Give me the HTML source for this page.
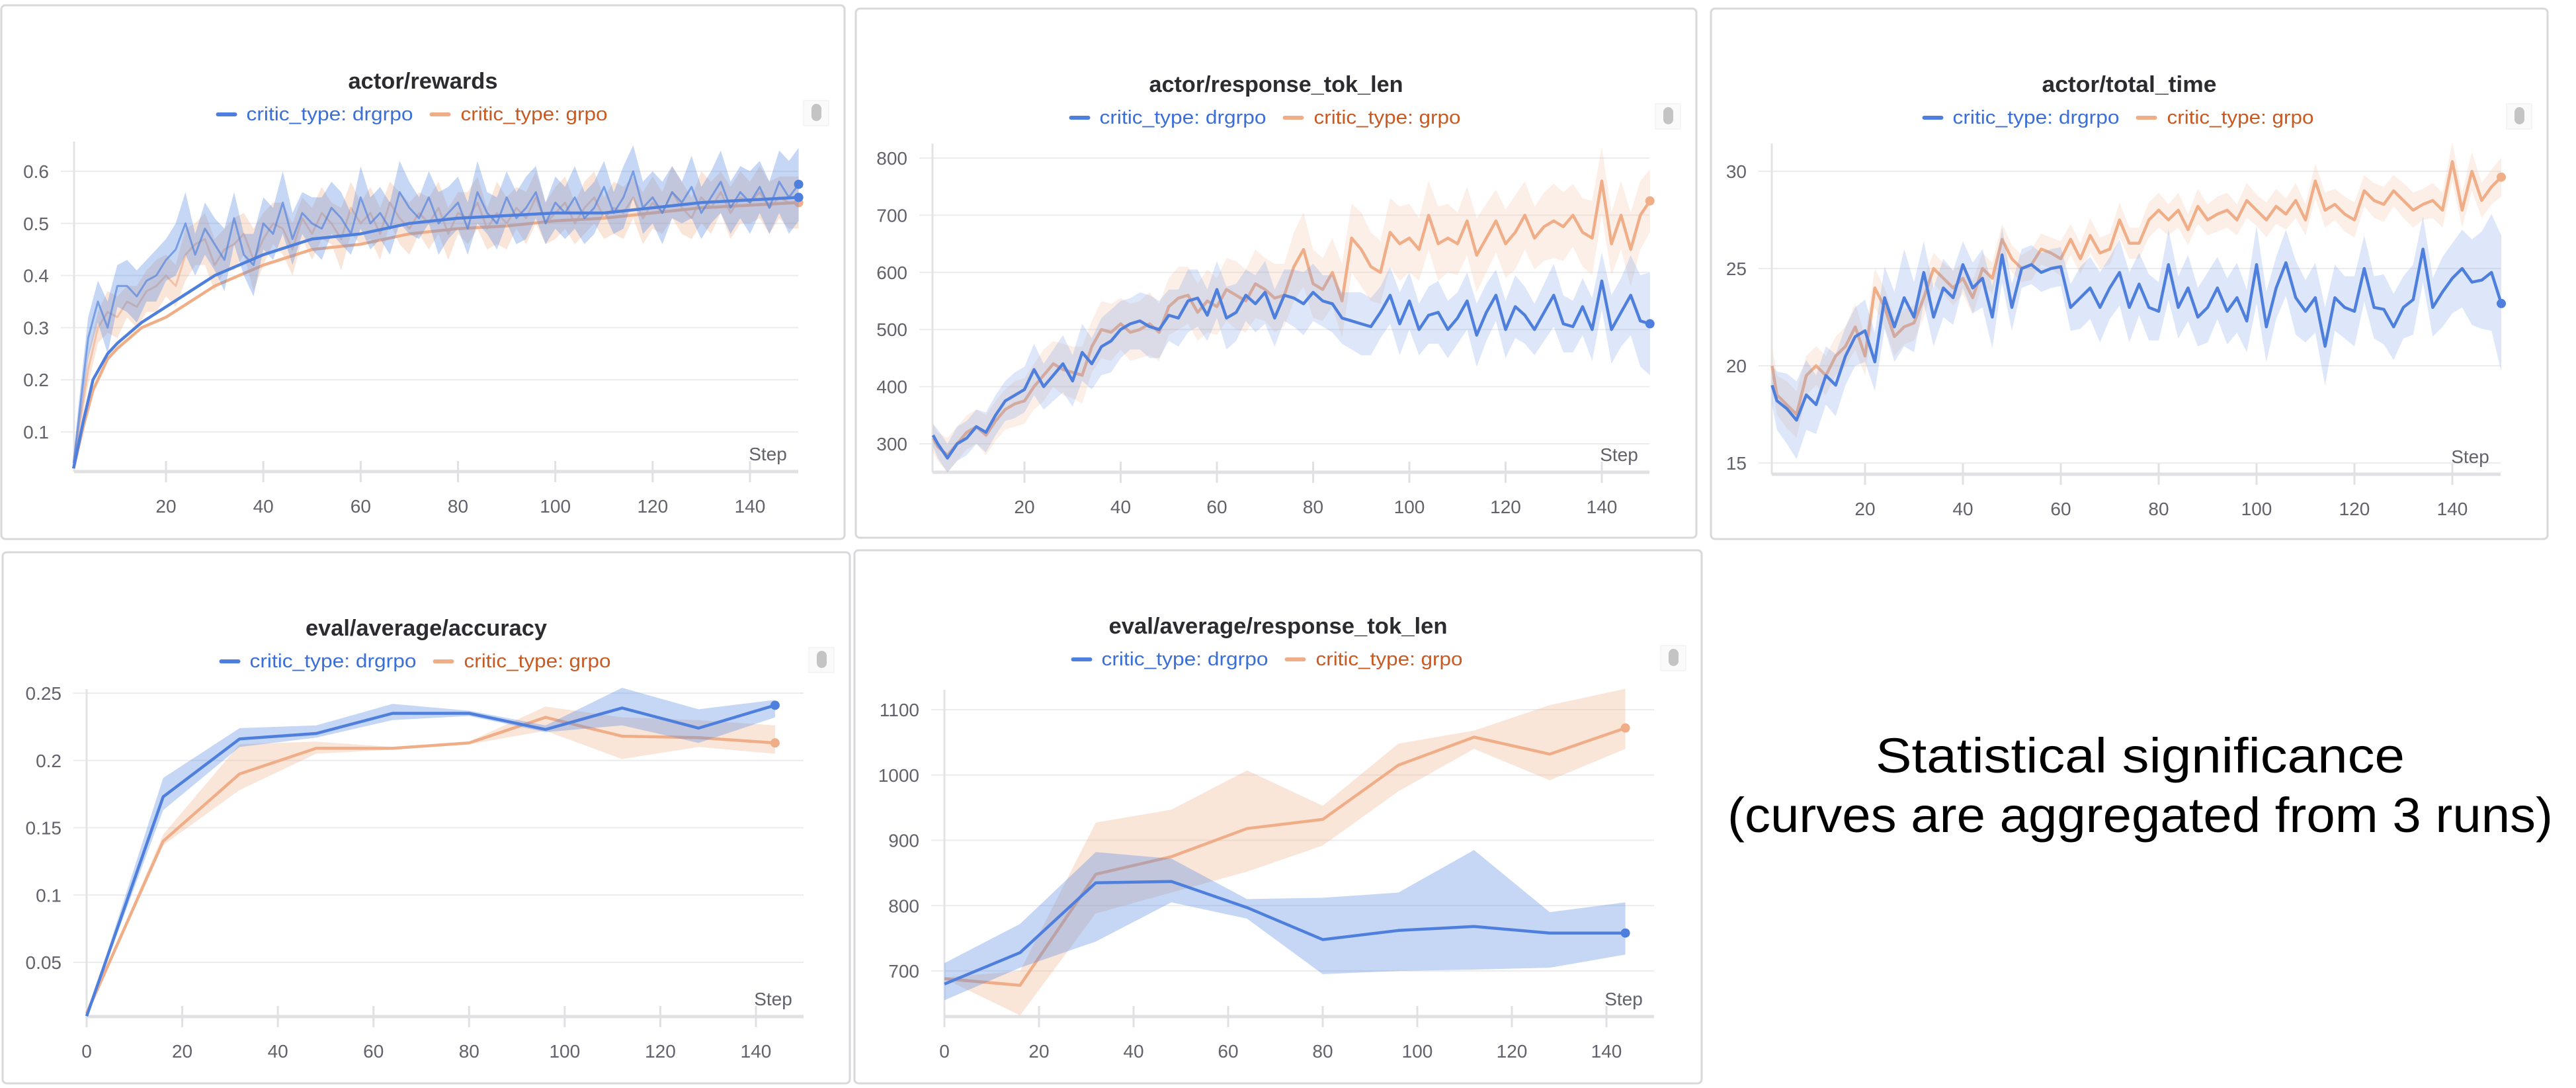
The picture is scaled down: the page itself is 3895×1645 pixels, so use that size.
<!DOCTYPE html>
<html><head><meta charset="utf-8"><style>
html,body{margin:0;padding:0;background:#fff;}
svg{display:block;}
text{font-family:"Liberation Sans",sans-serif;}
</style></head>
<body>
<svg id="root" width="3895" height="1645" viewBox="0 0 3895 1645" xmlns="http://www.w3.org/2000/svg">
<text x="3236" y="1168" font-size="74" fill="#000" text-anchor="middle" textLength="800" lengthAdjust="spacingAndGlyphs">Statistical significance</text>
<text x="3236" y="1258" font-size="74" fill="#000" text-anchor="middle" textLength="1248" lengthAdjust="spacingAndGlyphs">(curves are aggregated from 3 runs)</text>
</svg>
<script>
// ===== Data: actor/rewards (steps 1,2,4,...,150) =====
const rewardsDr = [0.04,0.12,0.28,0.35,0.30,0.38,0.38,0.36,0.39,0.40,0.43,0.45,0.50,0.44,0.49,0.46,0.43,0.51,0.44,0.42,0.50,0.48,0.54,0.47,0.52,0.50,0.49,0.53,0.51,0.48,0.55,0.50,0.52,0.49,0.56,0.53,0.51,0.55,0.50,0.52,0.54,0.49,0.56,0.52,0.50,0.55,0.51,0.53,0.56,0.50,0.54,0.52,0.55,0.51,0.53,0.57,0.52,0.55,0.60,0.53,0.55,0.52,0.56,0.54,0.57,0.52,0.55,0.58,0.53,0.56,0.54,0.57,0.53,0.58,0.55,0.575];
const rewardsGr = [0.04,0.10,0.22,0.30,0.33,0.32,0.35,0.34,0.37,0.38,0.40,0.38,0.44,0.46,0.47,0.42,0.45,0.46,0.48,0.43,0.47,0.50,0.49,0.45,0.51,0.48,0.52,0.50,0.47,0.53,0.50,0.52,0.48,0.54,0.51,0.49,0.52,0.50,0.53,0.48,0.52,0.51,0.54,0.49,0.52,0.50,0.53,0.51,0.55,0.50,0.52,0.54,0.50,0.53,0.55,0.51,0.53,0.52,0.55,0.51,0.54,0.52,0.56,0.53,0.51,0.55,0.53,0.56,0.52,0.55,0.54,0.56,0.53,0.55,0.54,0.54];
const rewardsDrSpread = [0.01,0.03,0.04,0.04,0.05,0.04,0.05,0.05,0.04,0.05,0.04,0.05,0.06,0.04,0.05,0.05,0.06,0.05,0.04,0.06,0.05,0.05,0.06,0.05,0.04,0.05,0.06,0.05,0.05,0.04,0.06,0.05,0.05,0.05,0.06,0.05,0.04,0.05,0.06,0.05,0.05,0.05,0.06,0.04,0.05,0.05,0.05,0.06,0.05,0.04,0.05,0.05,0.06,0.05,0.05,0.05,0.04,0.06,0.05,0.05,0.05,0.06,0.05,0.04,0.06,0.05,0.05,0.06,0.05,0.05,0.06,0.05,0.05,0.06,0.07,0.07];
const rewardsGrSpread = [0.01,0.02,0.03,0.03,0.04,0.04,0.03,0.04,0.04,0.05,0.04,0.04,0.05,0.04,0.05,0.05,0.04,0.05,0.04,0.06,0.05,0.04,0.05,0.05,0.04,0.05,0.05,0.04,0.06,0.05,0.04,0.05,0.05,0.04,0.05,0.05,0.04,0.05,0.05,0.05,0.04,0.05,0.05,0.04,0.06,0.05,0.04,0.05,0.05,0.04,0.05,0.05,0.04,0.05,0.05,0.04,0.05,0.05,0.04,0.05,0.05,0.04,0.05,0.05,0.04,0.05,0.05,0.04,0.05,0.05,0.04,0.05,0.05,0.04,0.05,0.05];
const smoothSteps = [1,3,5,8,10,15,20,25,30,35,40,50,60,70,80,90,100,110,120,130,140,150];
const rewardsDrSmooth = [0.03,0.12,0.20,0.25,0.27,0.31,0.34,0.37,0.40,0.42,0.44,0.47,0.48,0.50,0.51,0.515,0.52,0.52,0.53,0.54,0.545,0.55];
const rewardsGrSmooth = [0.03,0.11,0.18,0.24,0.26,0.30,0.32,0.35,0.38,0.40,0.42,0.45,0.46,0.48,0.49,0.495,0.505,0.51,0.52,0.53,0.535,0.54];

// ===== Data: actor/response_tok_len =====
const tokDr = [315,300,275,300,310,330,320,350,375,385,395,430,400,420,440,410,460,440,470,480,500,510,515,505,500,525,520,550,555,525,570,520,530,560,545,565,520,560,555,545,565,550,545,520,515,510,505,530,560,510,550,500,525,530,500,520,550,490,530,560,500,540,525,500,530,560,510,505,540,500,585,500,530,560,515,510];
const tokGr = [310,295,280,300,320,330,315,340,360,370,375,400,420,440,430,425,420,470,500,495,510,495,500,510,495,540,555,560,530,550,540,570,560,550,580,570,555,560,610,640,580,570,600,550,660,640,610,600,670,650,660,640,700,650,660,650,690,630,660,690,650,670,700,660,680,690,680,700,670,660,760,650,700,640,700,725];
const tokDrSpread = [20,25,25,30,30,30,35,35,35,40,40,45,40,45,50,45,50,45,50,55,50,45,50,55,50,45,50,55,50,45,50,55,50,45,50,55,50,45,50,55,50,45,50,45,50,55,50,45,50,55,50,45,50,55,50,45,50,55,50,45,50,55,50,45,50,55,50,45,50,55,50,60,60,70,80,90];
const tokGrSpread = [25,25,30,30,30,30,35,35,35,40,40,40,45,40,45,45,50,45,50,50,45,50,50,55,50,50,55,50,50,55,50,55,60,55,60,55,60,55,60,65,60,55,60,65,60,65,60,55,60,65,60,55,60,65,60,55,60,65,60,55,60,65,60,55,60,65,60,55,60,65,60,55,60,65,60,55];

// ===== Data: actor/total_time =====
const timeDr = [19,18.2,17.8,17.2,18.5,18.0,19.5,19.0,20.5,21.5,21.8,20.2,23.5,22.0,23.5,22.5,24.8,22.5,24.0,23.5,25.2,24.0,24.5,22.5,25.7,23.0,25.0,25.2,24.8,25.0,25.1,23.0,23.5,24.0,23.0,24.0,24.8,23.0,24.2,23.0,22.8,25.2,23.0,24.0,22.5,23.0,24.0,22.8,23.5,22.3,25.2,22.0,24.0,25.3,23.5,22.8,23.5,21.0,23.5,23.0,22.8,25.0,23.0,22.9,22.0,23.0,23.4,26.0,23.0,23.8,24.5,25.0,24.3,24.4,24.8,23.2];
const timeGr = [20,18.5,18.0,17.5,19.5,20.0,19.5,20.5,21.0,22.0,20.5,24.0,23.0,21.5,22.0,22.2,23.5,25.0,24.5,24.0,24.5,23.5,25.0,24.5,26.5,25.5,25.0,25.2,26.0,25.8,25.5,26.5,25.5,26.7,25.8,26.0,27.5,26.3,26.3,27.5,28.0,27.5,28.0,27.0,28.2,27.5,27.8,28.0,27.5,28.5,28.0,27.5,28.2,27.8,28.5,27.5,29.5,28.0,28.3,27.8,27.5,29.0,28.5,28.3,29.0,28.5,28.0,28.3,28.5,28.0,30.5,28.0,30.0,28.5,29.2,29.7];
const timeDrSpread = [1.0,1.5,1.8,2.0,1.8,1.5,1.5,1.6,1.5,1.5,1.6,1.5,1.6,1.8,2.5,1.8,1.6,1.5,1.5,1.4,1.2,1.3,1.5,1.6,1.4,1.2,1.0,1.0,1.0,1.0,1.0,1.2,1.6,1.6,1.8,1.6,1.7,1.8,1.6,1.7,1.5,1.8,1.6,1.7,1.5,1.8,1.6,1.7,1.8,1.6,2.0,1.8,1.6,1.7,1.9,1.6,1.8,2.0,1.7,1.6,1.8,1.7,1.6,1.8,1.7,1.6,1.8,1.7,1.5,1.8,1.8,2.0,2.2,2.5,3.0,3.5];
const timeGrSpread = [1.0,1.0,1.2,1.2,1.0,1.0,1.0,1.0,1.0,1.2,1.0,1.0,1.0,1.0,0.9,0.9,1.0,0.8,0.8,0.9,0.8,0.9,0.8,0.8,0.8,0.7,0.7,0.8,0.8,0.8,0.9,0.8,0.8,0.9,0.8,0.8,0.9,0.8,0.8,0.9,0.9,0.8,0.9,0.8,0.9,0.8,0.9,0.9,0.8,0.9,0.8,0.9,0.9,0.8,0.9,0.8,0.9,0.9,0.8,0.9,0.9,0.8,0.9,0.9,0.8,0.9,0.9,0.8,0.9,0.9,1.0,0.9,1.0,0.9,0.9,1.0];

// ===== Data: eval charts (steps 0..144 every 16) =====
const evalSteps = [0,16,32,48,64,80,96,112,128,144];
const accDr = [0.01,0.173,0.216,0.22,0.235,0.235,0.223,0.239,0.224,0.241];
const accDrLo = [0.01,0.163,0.21,0.217,0.23,0.233,0.221,0.226,0.213,0.232];
const accDrHi = [0.01,0.187,0.224,0.226,0.242,0.237,0.226,0.254,0.238,0.245];
const accGr = [0.012,0.14,0.19,0.209,0.209,0.213,0.232,0.218,0.217,0.213];
const accGrLo = [0.012,0.137,0.178,0.205,0.208,0.212,0.222,0.201,0.21,0.205];
const accGrHi = [0.012,0.145,0.212,0.214,0.21,0.214,0.24,0.232,0.23,0.226];
const evTokDr = [680,728,835,837,797,748,762,768,758,758];
const evTokDrLo = [655,705,745,805,780,695,700,702,705,725];
const evTokDrHi = [712,772,882,872,810,812,820,885,790,805];
const evTokGr = [688,678,848,875,918,932,1015,1058,1032,1072];
const evTokGrLo = [688,632,788,820,852,892,975,1040,992,1040];
const evTokGrHi = [690,700,927,947,1007,953,1048,1068,1107,1132];

// tick labels
const ticksRewardsY = [0.1,0.2,0.3,0.4,0.5,0.6];
const ticksTokY = [300,400,500,600,700,800];
const ticksTimeY = [15,20,25,30];
const ticksAccY = [0.05,0.1,0.15,0.2,0.25];
const ticksEvTokY = [700,800,900,1000,1100];
const ticksStepX = [20,40,60,80,100,120,140];
const ticksStepX0 = [0,20,40,60,80,100,120,140];

const NS = 'http://www.w3.org/2000/svg';
const root = document.getElementById('root');
const BLUE = '#4f7fdc', ORANGE = '#f0ae88';
const BLUE_FILL = 'rgba(90,140,225,0.35)', ORANGE_FILL = 'rgba(240,170,130,0.30)';

function mk(tag, attrs, parent){
  const e = document.createElementNS(NS, tag);
  for (const k in attrs) e.setAttribute(k, attrs[k]);
  (parent||root).appendChild(e);
  return e;
}
function noisyStep(i){ return i === 0 ? 1 : 2*i; }

function chart(cfg){
  const g = mk('g', {});
  
  
  const X = v => cfg.xa + (v - cfg.va) * (cfg.xb - cfg.xa) / (cfg.vb - cfg.va);
  const Y = v => cfg.ya + (v - cfg.ua) * (cfg.yb - cfg.ya) / (cfg.ub - cfg.ua);
  const [px0, py0, px1, py1] = cfg.panel;
  const frame = mk('rect', {x:px0, y:py0, width:px1-px0, height:py1-py0, rx:6, fill:'#fff', stroke:'#d9d9dc', 'stroke-width':3}, g);
  
  
  const cx = (px0+px1)/2;
  const title = mk('text', {x:cx, y:py0+126, 'font-size':34, 'font-weight':'bold', fill:'#2b2b30', 'text-anchor':'middle', textLength:cfg.titleW, lengthAdjust:'spacingAndGlyphs'}, g);
  title.textContent = cfg.title;
  
  
  // legend
  const ly = py0 + 174, lx = cx - 310;
  const lg = mk('g', {}, g);
  
  
  const e1 = mk('g', {}, lg);
  
  
  mk('line', {x1:lx, y1:ly-9, x2:lx+26, y2:ly-9, stroke:BLUE, 'stroke-width':6, 'stroke-linecap':'round'}, e1);
  const t1 = mk('text', {x:lx+43, y:ly, 'font-size':29, fill:'#3b6fd8', textLength:252, lengthAdjust:'spacingAndGlyphs'}, e1);
  t1.textContent = 'critic_type: drgrpo';
  const e2 = mk('g', {}, lg);
  
  
  mk('line', {x1:lx+323, y1:ly-9, x2:lx+349, y2:ly-9, stroke:ORANGE, 'stroke-width':6, 'stroke-linecap':'round'}, e2);
  const t2 = mk('text', {x:lx+367, y:ly, 'font-size':29, fill:'#c85a23', textLength:222, lengthAdjust:'spacingAndGlyphs'}, e2);
  t2.textContent = 'critic_type: grpo';
  const tog = mk('g', {}, g);
  
  
  mk('rect', {x:px1-62, y:ly-30, width:38, height:38, fill:'#fafafa', stroke:'#eee'}, tog);
  mk('rect', {x:px1-50, y:ly-25, width:15, height:26, rx:7.5, fill:'#c4c4c4'}, tog);
  // grid & y ticks
  cfg.yticks.forEach(v => {
    const y = Y(v);
    mk('line', {x1:cfg.left-20, y1:y, x2:cfg.right, y2:y, stroke:'#ececee', 'stroke-width':2}, g);
    const t = mk('text', {x:cfg.left-38, y:y+10, 'font-size':28, fill:'#62626c', 'text-anchor':'end'}, g);
    t.textContent = String(v);
    
    
  });
  mk('line', {x1:cfg.left, y1:cfg.top, x2:cfg.left, y2:cfg.bottom, stroke:'#e3e3e6', 'stroke-width':3}, g);
  mk('line', {x1:cfg.left, y1:cfg.bottom, x2:cfg.right, y2:cfg.bottom, stroke:'#e1e1e4', 'stroke-width':5}, g);
  cfg.xticks.forEach(v => {
    const x = X(v);
    mk('line', {x1:x, y1:cfg.bottom-16, x2:x, y2:cfg.bottom+16, stroke:'#e1e1e4', 'stroke-width':3}, g);
    const t = mk('text', {x:x, y:cfg.bottom+62, 'font-size':28, fill:'#62626c', 'text-anchor':'middle'}, g);
    t.textContent = String(v);
    
    
  });
  const st = mk('text', {x:cfg.right-46, y:cfg.bottom-17, 'font-size':28, fill:'#62626c', 'text-anchor':'middle'}, g);
  st.textContent = 'Step';
  
  
  // series
  cfg.series.forEach(s => {
    const sg = mk('g', {}, g);
    
    
    const n = s.vals.length;
    const xs = s.vals.map((v, i) => X(s.steps(i)));
    const lo = s.vals.map((v, i) => s.lo ? s.lo[i] : v - (s.spread[i] !== undefined ? s.spread[i] : s.spread[s.spread.length-1]));
    const hi = s.vals.map((v, i) => s.hi ? s.hi[i] : v + (s.spread[i] !== undefined ? s.spread[i] : s.spread[s.spread.length-1]));
    let d = '';
    for (let i = 0; i < n; i++) d += (i ? 'L' : 'M') + xs[i].toFixed(1) + ' ' + Y(hi[i]).toFixed(1);
    for (let i = n-1; i >= 0; i--) d += 'L' + xs[i].toFixed(1) + ' ' + Y(lo[i]).toFixed(1);
    const band = mk('path', {d:d+'Z', fill:s.fill, stroke:'none'}, sg);
    
    
    let ld = '';
    for (let i = 0; i < n; i++) ld += (i ? 'L' : 'M') + xs[i].toFixed(1) + ' ' + Y(s.vals[i]).toFixed(1);
    const line = mk('path', {d:ld, fill:'none', stroke:s.color, 'stroke-width':s.smooth ? 3 : 4.5, 'stroke-opacity':s.smooth ? 0.65 : 1, 'stroke-linejoin':'round'}, sg);
    
    
    let lastY = Y(s.vals[n-1]);
    if (s.smooth) {
      let sd = '';
      for (let i = 0; i < s.smooth.length; i++) sd += (i ? 'L' : 'M') + X(smoothSteps[i]).toFixed(1) + ' ' + Y(s.smooth[i]).toFixed(1);
      const sl = mk('path', {d:sd, fill:'none', stroke:s.color, 'stroke-width':4.5, 'stroke-linejoin':'round'}, sg);
      
      
      const dot2 = mk('circle', {cx:X(smoothSteps[smoothSteps.length-1]), cy:Y(s.smooth[s.smooth.length-1]), r:7, fill:s.color}, sg);
      
      
    }
    const dot = mk('circle', {cx:xs[n-1], cy:lastY, r:7, fill:s.color}, sg);
    
    
  });
}

chart({name:'actor-rewards', title:'actor/rewards', titleW:226, panel:[2,8,1277,815],
  xa:251, va:20, xb:1134, vb:140, ya:259, ua:0.6, yb:653, ub:0.1,
  left:112, right:1207, top:214, bottom:713, yticks:ticksRewardsY, xticks:ticksStepX,
  series:[
    {id:'grpo', vals:rewardsGr, spread:rewardsGrSpread, steps:noisyStep, color:ORANGE, fill:ORANGE_FILL, smooth:rewardsGrSmooth},
    {id:'drgrpo', vals:rewardsDr, spread:rewardsDrSpread, steps:noisyStep, color:BLUE, fill:BLUE_FILL, smooth:rewardsDrSmooth}
  ]});
chart({name:'actor-response-tok-len', title:'actor/response_tok_len', titleW:384, panel:[1294,13,2565,813],
  xa:1549, va:20, xb:2422, vb:140, ya:239, ua:800, yb:671, ub:300,
  left:1410, right:2494, top:217, bottom:714, yticks:ticksTokY, xticks:ticksStepX,
  series:[
    {id:'grpo', vals:tokGr, spread:tokGrSpread, steps:noisyStep, color:ORANGE, fill:'rgba(245,190,160,0.25)'},
    {id:'drgrpo', vals:tokDr, spread:tokDrSpread, steps:noisyStep, color:BLUE, fill:'rgba(120,160,230,0.25)'}
  ]});
chart({name:'actor-total-time', title:'actor/total_time', titleW:264, panel:[2587,13,3852,815],
  xa:2820, va:20, xb:3708, vb:140, ya:259, ua:30, yb:700, ub:15,
  left:2679, right:3781, top:217, bottom:717, yticks:ticksTimeY, xticks:ticksStepX,
  series:[
    {id:'grpo', vals:timeGr, spread:timeGrSpread, steps:noisyStep, color:ORANGE, fill:'rgba(245,190,160,0.25)'},
    {id:'drgrpo', vals:timeDr, spread:timeDrSpread, steps:noisyStep, color:BLUE, fill:'rgba(120,160,230,0.25)'}
  ]});
chart({name:'eval-accuracy', title:'eval/average/accuracy', titleW:365, panel:[4,835,1285,1638],
  xa:131, va:0, xb:1143, vb:140, ya:1048, ua:0.25, yb:1455, ub:0.05,
  left:131, right:1215, top:1042, bottom:1537, yticks:ticksAccY, xticks:ticksStepX0,
  series:[
    {id:'grpo', vals:accGr, lo:accGrLo, hi:accGrHi, steps:i=>evalSteps[i], color:ORANGE, fill:ORANGE_FILL},
    {id:'drgrpo', vals:accDr, lo:accDrLo, hi:accDrHi, steps:i=>evalSteps[i], color:BLUE, fill:BLUE_FILL}
  ]});
chart({name:'eval-response-tok-len', title:'eval/average/response_tok_len', titleW:512, panel:[1292,832,2573,1638],
  xa:1428, va:0, xb:2429, vb:140, ya:1073, ua:1100, yb:1468, ub:700,
  left:1428, right:2501, top:1043, bottom:1537, yticks:ticksEvTokY, xticks:ticksStepX0,
  series:[
    {id:'grpo', vals:evTokGr, lo:evTokGrLo, hi:evTokGrHi, steps:i=>evalSteps[i], color:ORANGE, fill:ORANGE_FILL},
    {id:'drgrpo', vals:evTokDr, lo:evTokDrLo, hi:evTokDrHi, steps:i=>evalSteps[i], color:BLUE, fill:BLUE_FILL}
  ]});
</script>
</body></html>
